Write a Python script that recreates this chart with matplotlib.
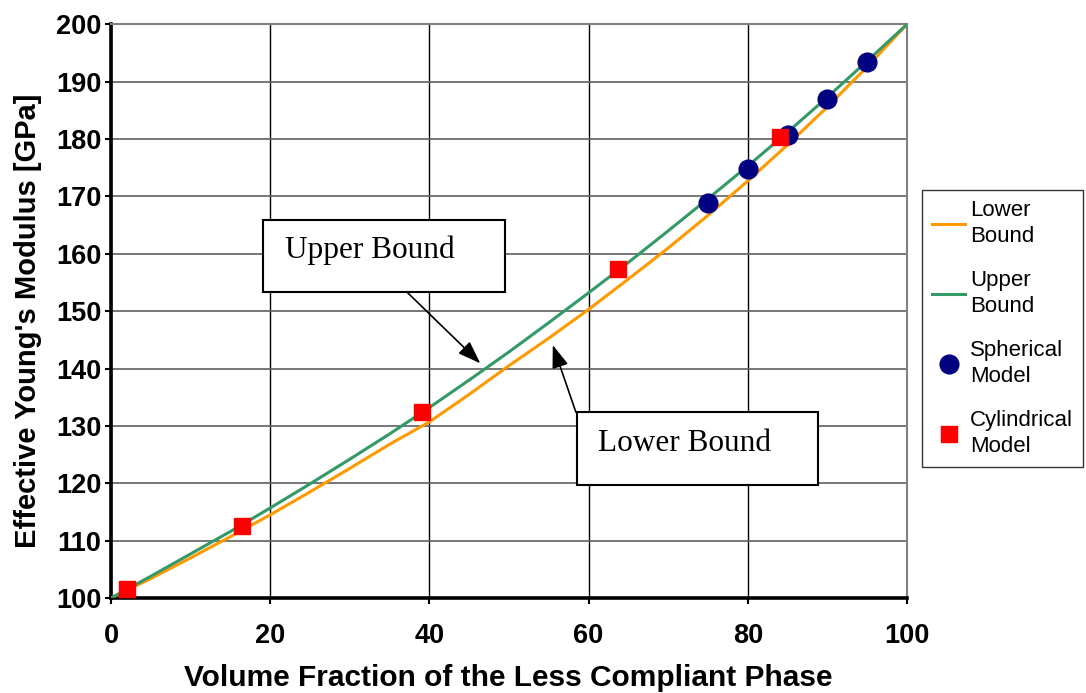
import numpy as np
import matplotlib.pyplot as plt
from matplotlib.patches import Rectangle

# volume fraction of the stiffer phase [%]
vf = [0, 5, 10, 15, 20, 25, 30, 35, 40, 45, 50, 55, 60, 65, 70, 75, 80, 85, 90, 95, 100]
upper = [100, 103.8, 107.7, 111.6, 115.7, 119.9, 124.2, 128.6, 133.2, 138.0, 142.9,
         148.0, 153.2, 158.5, 164.0, 169.6, 175.3, 181.2, 187.3, 193.6, 200]
lower = [100, 103.4, 107.0, 110.7, 114.5, 118.5, 122.6, 126.8, 130.7, 135.5, 140.5,
         145.3, 150.3, 155.6, 161.0, 166.7, 172.7, 179.0, 185.6, 192.6, 200]

sph_vf = [75, 80, 85, 90, 95]
sph_E = [168.8, 174.7, 180.7, 187.0, 193.4]

cyl_vf = [2.0, 16.5, 39.1, 63.7, 84.0]
cyl_E = [101.6, 112.5, 132.4, 157.3, 180.4]

fig = plt.figure(figsize=(10.86, 6.93), dpi=100)
ax = fig.add_axes([0.1022, 0.137, 0.7330, 0.828])

ax.plot(vf, lower, color='#FF9900', lw=2.2, label='Lower\nBound', zorder=3)
ax.plot(vf, upper, color='#339966', lw=2.2, label='Upper\nBound', zorder=3)
ax.plot(sph_vf, sph_E, 'o', color='#000080', ms=13.5, ls='none', label='Spherical\nModel', zorder=4)
ax.plot(cyl_vf, cyl_E, 's', color='#FF0000', ms=11.5, ls='none', label='Cylindrical\nModel', zorder=5)

ax.set_xlim(0, 100)
ax.set_ylim(100, 200)
ax.set_xticks(np.arange(0, 101, 20))
ax.set_yticks(np.arange(100, 201, 10))
ax.xaxis.grid(True, color='black', lw=1)
ax.yaxis.grid(True, color='#606060', lw=1.2)
ax.set_axisbelow(True)

for s in ['left', 'bottom']:
    ax.spines[s].set_linewidth(2.6)
    ax.spines[s].set_color('black')
for s in ['top', 'right']:
    ax.spines[s].set_linewidth(1.5)
    ax.spines[s].set_color('#808080')

ax.tick_params(axis='both', direction='out', length=4, width=1.5, labelsize=19.5)
ax.tick_params(axis='x', pad=14)
ax.tick_params(axis='y', pad=3)
for lab in ax.get_xticklabels() + ax.get_yticklabels():
    lab.set_fontweight('bold')
    lab.set_family('Liberation Sans')

ax.set_xlabel('Volume Fraction of the Less Compliant Phase', fontsize=21.5,
              fontweight='bold', family='Liberation Sans', va='center')
ax.set_ylabel("Effective Young's Modulus [GPa]", fontsize=21,
              fontweight='bold', family='Liberation Sans', va='center')
ax.xaxis.set_label_coords(0.499, -0.139)
ax.yaxis.set_label_coords(-0.104, 0.484)

# callout boxes
for (x0, x1, y0, y1), (tx, ty), text, (ax0, ay0), (ax1, ay1) in [
        ((19.1, 49.5, 153.3, 165.9), (21.9, 160.6), 'Upper Bound', (37.2, 153.3), (46.4, 140.9)),
        ((58.5, 88.8, 119.7, 132.4), (61.2, 127.0), 'Lower Bound', (58.4, 132.4), (55.5, 144.1))]:
    ax.add_patch(Rectangle((x0, y0), x1 - x0, y1 - y0, facecolor='white',
                           edgecolor='black', lw=1.5, zorder=6))
    ax.text(tx, ty, text, family='Liberation Serif', fontsize=22.5,
            va='center', ha='left', zorder=7)
    ax.annotate('', xy=(ax1, ay1), xytext=(ax0, ay0),
                arrowprops=dict(arrowstyle='-|>,head_length=1.4,head_width=0.5',
                                color='black', lw=1.2, shrinkA=0, shrinkB=0), zorder=6)

leg = fig.legend(loc='upper left', bbox_to_anchor=(0.849, 0.726), frameon=True,
                 fancybox=False, edgecolor='black', prop={'family': 'Liberation Sans', 'size': 16},
                 handlelength=1.5, labelspacing=1.05, borderpad=0.45, handletextpad=0.2,
                 borderaxespad=0)
for t in leg.get_texts():
    t.set_linespacing(1.3)
leg.get_frame().set_linewidth(1.0)

fig.savefig('out.png', dpi=100)
